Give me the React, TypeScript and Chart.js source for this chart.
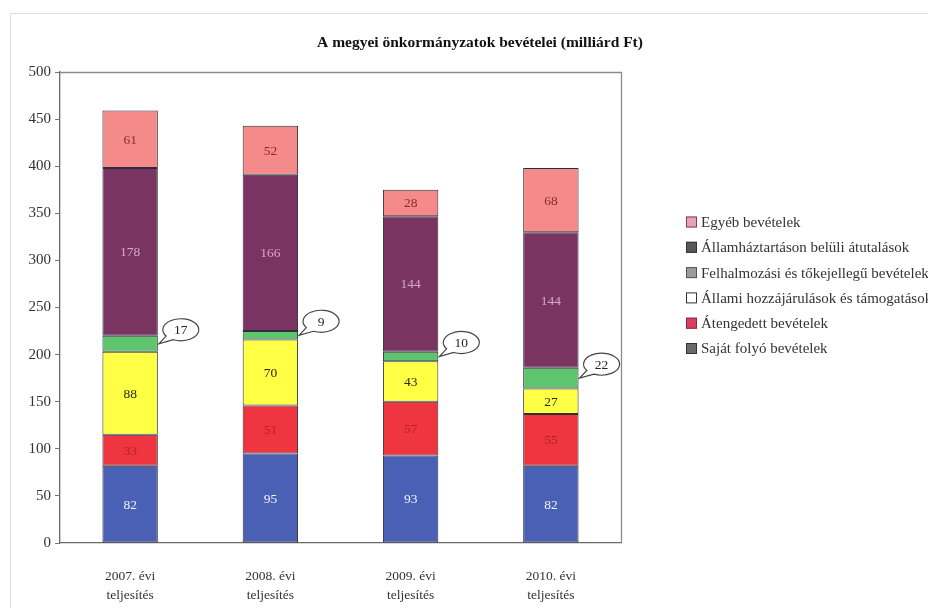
import React, { useEffect, useRef } from "react";
import { Chart, registerables } from "chart.js";

Chart.register(...registerables);

// ---- Data ----
const categories: string[][] = [
  ["2007. évi", "teljesítés"],
  ["2008. évi", "teljesítés"],
  ["2009. évi", "teljesítés"],
  ["2010. évi", "teljesítés"],
];
const sajatFolyo = [82, 95, 93, 82];
const atengedett = [33, 51, 57, 55];
const allamiHozzajarulas = [88, 70, 43, 27];
const felhalmozasi = [17, 9, 10, 22];
const allamhaztartason = [178, 166, 144, 144];
const egyeb = [61, 52, 28, 68];
const yTicks = [0, 50, 100, 150, 200, 250, 300, 350, 400, 450, 500];

const titleText = "A megyei önkormányzatok bevételei (milliárd Ft)";

// legend (top to bottom) as printed in the reference
const legendLabels = [
  "Egyéb bevételek",
  "Államháztartáson belüli átutalások",
  "Felhalmozási és tőkejellegű bevételek",
  "Állami hozzájárulások és támogatások",
  "Átengedett bevételek",
  "Saját folyó bevételek",
];
const legendFills = ["#e6a3b6", "#585858", "#9c9c9c", "#ffffff", "#d8405e", "#6a6a6a"];
const legendBorders = ["#8a3a55", "#333333", "#555555", "#333333", "#8a2a40", "#333333"];

const SERIF = "'Liberation Serif', 'Times New Roman', serif";

const overlayPlugin = {
  id: "overlay",
  beforeDraw(chart: any) {
    const ctx = chart.ctx;
    ctx.save();
    ctx.fillStyle = "#ffffff";
    ctx.fillRect(0, 0, chart.width, chart.height);
    // outer faint frame
    ctx.strokeStyle = "#dcdcdc";
    ctx.lineWidth = 1;
    ctx.strokeRect(10.5, 13.5, chart.width + 20, chart.height + 20);
    ctx.restore();
  },
  beforeDatasetsDraw(chart: any) {
    const ctx = chart.ctx;
    const a = chart.chartArea;
    ctx.save();
    ctx.strokeStyle = "#8c8c8c";
    ctx.lineWidth = 1.3;
    ctx.beginPath();
    ctx.moveTo(a.left, a.top + 0.5);
    ctx.lineTo(a.right + 0.5, a.top + 0.5);
    ctx.lineTo(a.right + 0.5, a.bottom);
    ctx.stroke();
    ctx.restore();
  },
  afterDatasetsDraw(chart: any) {
    const ctx = chart.ctx;
    ctx.save();
    ctx.font = `13.5px ${SERIF}`;
    ctx.textAlign = "center";
    ctx.textBaseline = "middle";
    chart.data.datasets.forEach((ds: any, di: number) => {
      const meta = chart.getDatasetMeta(di);
      meta.data.forEach((el: any, i: number) => {
        const v = ds.data[i];
        const top = el.y;
        const bottom = el.base;
        const mid = (top + bottom) / 2;
        if (ds.callout) {
          const right = el.x + el.width / 2;
          const cx = right + 23;
          const cy = mid - 14;
          const rx = 18;
          const ry = 11;
          ctx.beginPath();
          ctx.ellipse(cx, cy, rx, ry, 0, (145 * Math.PI) / 180, (115 * Math.PI) / 180 + Math.PI * 2);
          ctx.lineTo(right + 1, mid);
          ctx.closePath();
          ctx.fillStyle = "#ffffff";
          ctx.fill();
          ctx.strokeStyle = "#444444";
          ctx.lineWidth = 1.2;
          ctx.stroke();
          ctx.fillStyle = "#222222";
          ctx.fillText(String(v), cx, cy + 1);
        } else {
          ctx.fillStyle = ds.labelColor;
          ctx.fillText(String(v), el.x, mid + 1);
        }
      });
    });
    ctx.restore();
  },
  afterDraw(chart: any) {
    const ctx = chart.ctx;
    ctx.save();
    // title
    ctx.font = `bold 15.5px ${SERIF}`;
    ctx.fillStyle = "#111111";
    ctx.textAlign = "center";
    ctx.textBaseline = "middle";
    ctx.fillText(titleText, 480, 43);
    // legend
    ctx.font = `15px ${SERIF}`;
    ctx.textAlign = "left";
    legendLabels.forEach((lab, i) => {
      const y = 222 + i * 25.3;
      ctx.fillStyle = legendFills[i];
      ctx.fillRect(686, y - 5.5, 11, 11);
      ctx.strokeStyle = legendBorders[i];
      ctx.lineWidth = 1;
      ctx.strokeRect(686.5, y - 5, 10, 10);
      ctx.fillStyle = "#333333";
      ctx.fillText(lab, 701, y + 1);
    });
    ctx.restore();
  },
};

export default function App() {
  const ref = useRef<HTMLCanvasElement | null>(null);
  useEffect(() => {
    if (!ref.current) return;
    const barPct = 0.395;
    const mk = (label: string, data: number[], color: string, labelColor: string, extra: any = {}) => ({
      label,
      data,
      backgroundColor: color,
      borderColor: "#2e2e3a",
      borderWidth: 1,
      borderSkipped: false,
      barPercentage: barPct,
      categoryPercentage: 1,
      labelColor,
      ...extra,
    });
    const chart = new Chart(ref.current, {
      type: "bar",
      data: {
        labels: categories,
        datasets: [
          mk("Saját folyó bevételek", sajatFolyo, "#4a60b4", "#f2f2ff"),
          mk("Átengedett bevételek", atengedett, "#ef3540", "#b8202c"),
          mk("Állami hozzájárulások és támogatások", allamiHozzajarulas, "#ffff45", "#2a2a10"),
          mk("Felhalmozási és tőkejellegű bevételek", felhalmozasi, "#5ec46e", "#222", { callout: true }),
          mk("Államháztartáson belüli átutalások", allamhaztartason, "#7a3462", "#d9a6c8"),
          mk("Egyéb bevételek", egyeb, "#f58a8a", "#8a2a2a"),
        ] as any,
      },
      options: {
        responsive: false,
        animation: false,
        layout: { padding: { top: 72, right: 307, left: 0, bottom: 0 } },
        plugins: {
          legend: { display: false },
          title: { display: false },
          tooltip: { enabled: false },
        },
        scales: {
          x: {
            stacked: true,
            grid: { display: false },
            border: { display: true, color: "#6a6a6a", width: 1.3 },
            ticks: {
              color: "#333333",
              font: { family: SERIF, size: 13.5, lineHeight: 1.4 },
              padding: 16,
              maxRotation: 0,
              autoSkip: false,
            },
            afterFit: (s: any) => {
              s.height = 65;
            },
          },
          y: {
            stacked: true,
            min: 0,
            max: 500,
            afterBuildTicks: (s: any) => {
              s.ticks = yTicks.map((v) => ({ value: v }));
            },
            grid: {
              drawOnChartArea: false,
              drawTicks: true,
              tickLength: 5,
              color: "#777777",
            },
            border: { display: true, color: "#6a6a6a", width: 1.3 },
            ticks: {
              color: "#333333",
              font: { family: SERIF, size: 15 },
              padding: 4,
            },
            afterFit: (s: any) => {
              s.width = 60;
            },
          },
        },
      } as any,
      plugins: [overlayPlugin],
    });
    return () => chart.destroy();
  }, []);
  return (
    <div style={{ position: "absolute", left: 0, top: 0, width: 928, height: 608 }}>
      <canvas ref={ref} width={928} height={608} style={{ display: "block", width: 928, height: 608 }} />
    </div>
  );
}
